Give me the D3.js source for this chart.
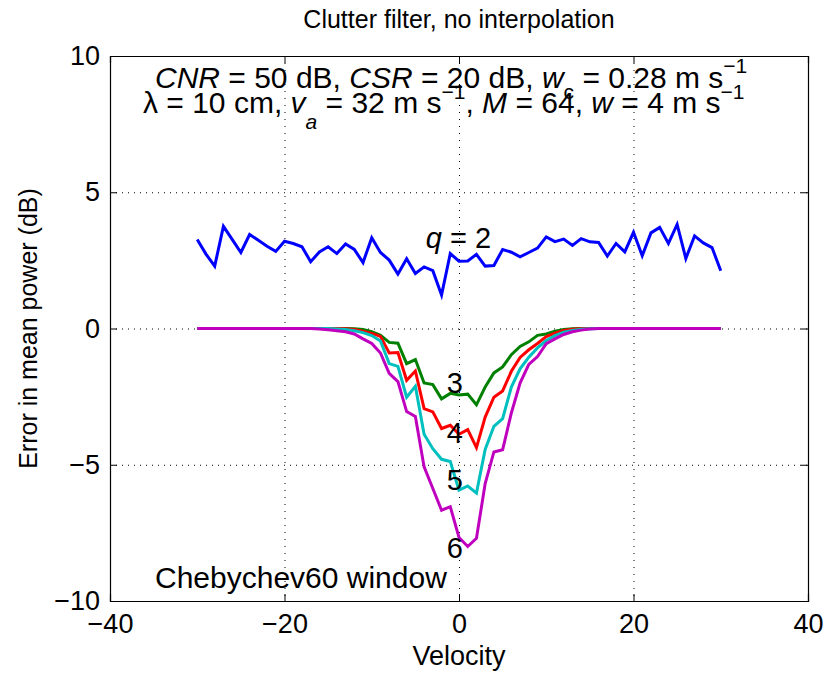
<!DOCTYPE html>
<html>
<head>
<meta charset="utf-8">
<script src="https://cdn.jsdelivr.net/npm/d3@7"></script>
<style>
  html, body { margin: 0; padding: 0; background: #fff; }
  svg text { font-family: "Liberation Sans", Arial, Helvetica, sans-serif; fill: #000; }
</style>
</head>
<body>
<div id="chart"></div>
<script>
// ---------- data ----------
const velocity = [-30,-29,-28,-27,-26,-25,-24,-23,-22,-21,-20,-19,-18,-17,-16,-15,-14,-13,-12,-11,-10,-9,-8,-7,-6,-5,-4,-3,-2,-1,0,1,2,3,4,5,6,7,8,9,10,11,12,13,14,15,16,17,18,19,20,21,22,23,24,25,26,27,28,29,30];

const q2 = [3.27,2.73,2.29,3.75,3.27,2.79,3.45,3.24,3.02,2.83,3.20,3.12,3.00,2.45,2.81,3.00,2.75,3.10,2.90,2.42,3.33,2.79,2.51,2.00,2.56,2.02,2.26,2.12,1.23,2.75,2.47,2.48,2.72,2.29,2.31,2.90,2.80,2.63,2.79,2.95,3.36,3.19,3.28,3.05,3.30,3.18,3.16,2.66,3.12,2.81,3.53,2.67,3.51,3.71,3.12,3.82,2.57,3.40,3.14,2.97,2.12];

const q3 = [0,0,0,0,0,0,0,0,0,0,0,0,0,0,0,0,0,0,
  -0.01,-0.04,-0.12,-0.25,-0.51,-0.54,-1.29,-1.14,-2.00,-2.06,-2.58,-2.38,-2.44,-2.41,-2.80,-2.15,-1.63,-1.41,-0.96,-0.66,-0.49,-0.25,-0.20,-0.10,-0.04,-0.01,
  0,0,0,0,0,0,0,0,0,0,0,0,0,0,0,0,0];

const q4 = [0,0,0,0,0,0,0,0,0,0,0,0,0,0,0,0,0,
  -0.01,-0.04,-0.10,-0.18,-0.29,-0.90,-0.88,-1.90,-1.56,-2.94,-3.06,-3.67,-3.55,-3.88,-3.71,-4.37,-3.25,-2.52,-2.29,-1.57,-1.06,-0.78,-0.55,-0.30,-0.17,-0.07,-0.03,-0.01,
  0,0,0,0,0,0,0,0,0,0,0,0,0,0,0,0];

const q5 = [0,0,0,0,0,0,0,0,0,0,0,0,0,0,0,0,
  -0.02,-0.04,-0.08,-0.15,-0.26,-0.46,-1.29,-1.39,-2.52,-2.12,-3.88,-4.41,-4.80,-4.88,-5.93,-5.78,-6.04,-4.44,-3.59,-3.31,-2.15,-1.48,-1.05,-0.71,-0.44,-0.26,-0.14,-0.07,-0.03,-0.01,
  0,0,0,0,0,0,0,0,0,0,0,0,0,0,0];

const q6 = [0,0,0,0,0,0,0,0,0,0,0,0,0,0,
  -0.02,-0.05,-0.08,-0.12,-0.20,-0.38,-0.55,-0.90,-1.65,-1.95,-3.05,-3.23,-5.08,-5.87,-6.67,-6.54,-7.67,-8.00,-7.70,-5.69,-4.53,-4.45,-3.10,-2.00,-1.32,-1.03,-0.56,-0.38,-0.22,-0.12,-0.06,-0.02,
  0,0,0,0,0,0,0,0,0,0,0,0,0,0,0];

const seriesNames = ["q = 2", "3", "4", "5", "6"];
const seriesColors = ["#0000ff", "#008000", "#ff0000", "#00bfbf", "#bf00bf"];
const seriesValues = [q2, q3, q4, q5, q6];

const xTicks = [-40, -20, 0, 20, 40];
const yTicks = [-10, -5, 0, 5, 10];
const xDomain = [-40, 40];
const yDomain = [-10, 10];

const titleText = "Clutter filter, no interpolation";
const xLabel = "Velocity";
const yLabel = "Error in mean power (dB)";
const windowLabel = "Chebychev60 window";

// ---------- layout ----------
const W = 824, H = 673;
const mLeft = 110, mRight = 808, mTop = 56, mBottom = 601;

const svg = d3.select("#chart").append("svg")
  .attr("width", W).attr("height", H)
  .style("display", "block");

svg.append("rect").attr("width", W).attr("height", H).attr("fill", "#fff");

const x = d3.scaleLinear().domain(xDomain).range([mLeft, mRight]);
const y = d3.scaleLinear().domain(yDomain).range([mBottom, mTop]);

const fmt = d => (d < 0 ? "\u2212" + Math.abs(d) : String(d));

// grid
const grid = svg.append("g");
grid.selectAll("line.gx").data(xTicks.filter(t => t > xDomain[0] && t < xDomain[1]))
  .join("line").attr("class", "gx")
  .attr("x1", d => x(d) + 0.5).attr("x2", d => x(d) + 0.5)
  .attr("y1", mTop).attr("y2", mBottom)
  .attr("stroke", "#000").attr("stroke-width", 1).attr("stroke-dasharray", "1,6");
grid.selectAll("line.gy").data(yTicks.filter(t => t > yDomain[0] && t < yDomain[1]))
  .join("line").attr("class", "gy")
  .attr("y1", d => y(d) + 0.5).attr("y2", d => y(d) + 0.5)
  .attr("x1", mLeft).attr("x2", mRight)
  .attr("stroke", "#000").attr("stroke-width", 1).attr("stroke-dasharray", "1,5");

// axes (ticks inward, MATLAB style)
const tickFont = "27px";
const xAxisB = d3.axisBottom(x).tickValues(xTicks).tickSize(-7).tickPadding(13).tickFormat(fmt);
const xAxisT = d3.axisTop(x).tickValues(xTicks).tickSize(-7).tickFormat("");
const yAxisL = d3.axisLeft(y).tickValues(yTicks).tickSize(-7).tickPadding(10).tickFormat(fmt);
const yAxisR = d3.axisRight(y).tickValues(yTicks).tickSize(-7).tickFormat("");

function styleAxis(g) {
  g.select(".domain").attr("stroke", "#000").attr("stroke-width", 1.2);
  g.selectAll(".tick line").attr("stroke", "#000").attr("stroke-width", 1);
  g.selectAll(".tick text").style("font-size", tickFont).attr("fill", "#000");
}
svg.append("g").attr("transform", `translate(0,${mBottom})`).call(xAxisB).call(styleAxis);
svg.append("g").attr("transform", `translate(0,${mTop})`).call(xAxisT).call(styleAxis);
svg.append("g").attr("transform", `translate(${mLeft},0)`).call(yAxisL).call(styleAxis);
svg.append("g").attr("transform", `translate(${mRight},0)`).call(yAxisR).call(styleAxis);

// lines
const line = d3.line().x((d, i) => x(velocity[i])).y(d => y(d));
svg.append("g").selectAll("path").data(seriesValues).join("path")
  .attr("d", d => line(d))
  .attr("fill", "none")
  .attr("stroke", (d, i) => seriesColors[i])
  .attr("stroke-width", 3)
  .attr("stroke-linejoin", "miter");

// series labels (placed in data coords)
const labelPos = [
  {v: -3.8, val: 2.95},
  {v: -1.4, val: -2.37},
  {v: -1.4, val: -4.2},
  {v: -1.4, val: -5.93},
  {v: -1.4, val: -8.43}
];
const lab = svg.append("g").style("font-size", "29px");
labelPos.forEach((p, i) => {
  const t = lab.append("text").attr("x", x(p.v)).attr("y", y(p.val));
  if (i === 0) {
    t.append("tspan").style("font-style", "italic").text("q");
    t.append("tspan").text(" = 2");
  } else {
    t.text(seriesNames[i]);
  }
});

// annotation text (MATLAB-style sub/superscripts)
const ann = svg.append("g").style("font-size", "30px");
const sub = "21px";
const l1 = ann.append("text").attr("x", 155).attr("y", 88);
l1.append("tspan").style("font-style", "italic").text("CNR");
l1.append("tspan").text(" = 50 dB, ");
l1.append("tspan").style("font-style", "italic").text("CSR");
l1.append("tspan").text(" = 20 dB, ");
l1.append("tspan").style("font-style", "italic").text("w");
l1.append("tspan").attr("dy", 11).style("font-size", sub).text("c");
l1.append("tspan").attr("dy", -11).text(" = 0.28 m s");
l1.append("tspan").attr("dy", -15).style("font-size", sub).text("\u22121");

const l2 = ann.append("text").attr("x", 143).attr("y", 113);
l2.append("tspan").text("\u03bb = 10 cm, ");
l2.append("tspan").style("font-style", "italic").text("v");
l2.append("tspan").attr("dy", 16).style("font-size", sub).style("font-style", "italic").text("a");
l2.append("tspan").attr("dy", -16).text(" = 32 m s");
l2.append("tspan").attr("dy", -14).style("font-size", sub).text("\u22121");
l2.append("tspan").attr("dy", 14).text(", ");
l2.append("tspan").style("font-style", "italic").text("M");
l2.append("tspan").text(" = 64, ");
l2.append("tspan").style("font-style", "italic").text("w");
l2.append("tspan").text(" = 4 m s");
l2.append("tspan").attr("dy", -14).style("font-size", sub).text("\u22121");

ann.append("text").attr("x", 155).attr("y", 588).text(windowLabel);

// title and axis labels
svg.append("text").attr("x", (mLeft + mRight) / 2).attr("y", 28)
  .attr("text-anchor", "middle").style("font-size", "25px").text(titleText);
svg.append("text").attr("x", (mLeft + mRight) / 2).attr("y", 665)
  .attr("text-anchor", "middle").style("font-size", "27px").text(xLabel);
svg.append("text").attr("transform", `translate(37,${(mTop + mBottom) / 2}) rotate(-90)`)
  .attr("text-anchor", "middle").style("font-size", "25px").text(yLabel);
</script>
</body>
</html>
